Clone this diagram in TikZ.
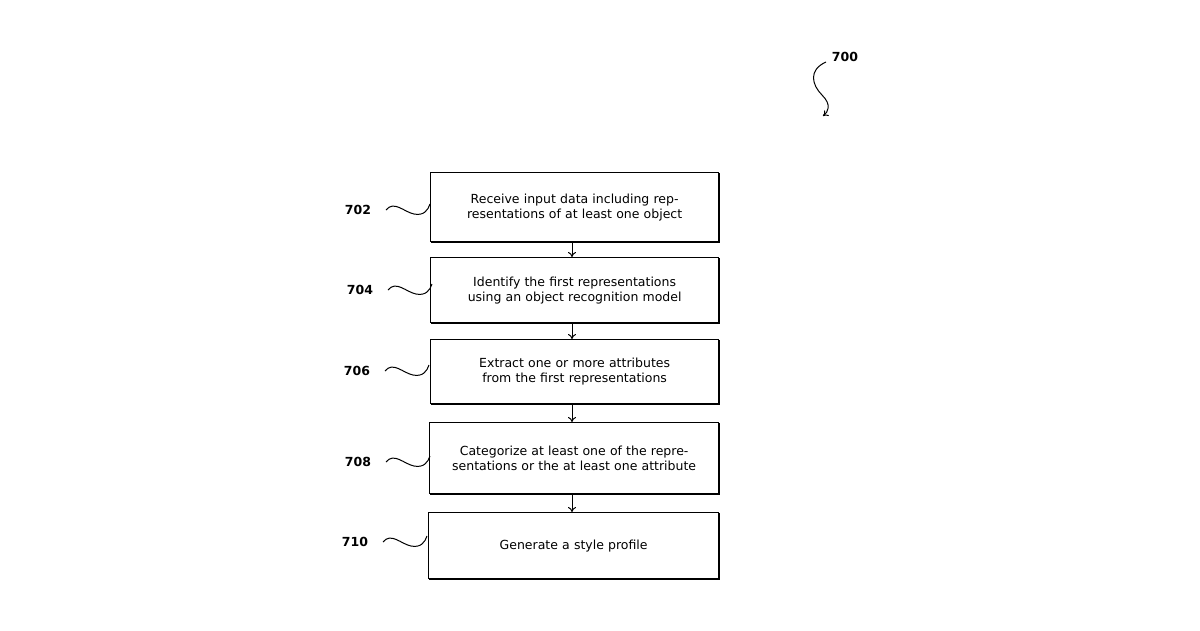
\documentclass[tikz,border=0pt]{standalone}
\usepackage{fontspec}
\setmainfont{DejaVu Sans}
\usetikzlibrary{arrows.meta}
\begin{document}
\begin{tikzpicture}[x=1pt,y=-1pt,
 box/.style={draw,line width=1.3pt,align=center,anchor=north west,inner sep=0pt,font=\fontsize{12.5}{15}\selectfont},
 lbl/.style={font=\bfseries\fontsize{12.5}{15}\selectfont},
 arr/.style={-{To[length=5pt,width=8pt]},line width=1pt},
 sq/.style={line width=1pt}]
\useasboundingbox (0,0) rectangle (1200,630);
\newcommand{\bx}[6]{%
 \node[box,minimum width=#4-#2,minimum height=#5-#3,text width=#4-#2-20] (#1) at (#2,#3) {#6};
 \draw[line width=1.3pt] (#2+1,#5+1.5) -- (#4+1.5,#5+1.5) -- (#4+1.5,#3+1);}
\bx{b702}{430}{172}{718}{241}{Receive input data including representations of at least one object}
\bx{b704}{430}{257}{718}{322}{Identify the first representations using an object recognition model}
\bx{b706}{430}{339}{718}{403}{Extract one or more attributes from the first representations}
\bx{b708}{429}{422}{718}{493}{Categorize at least one of the representations or the at least one attribute}
\bx{b710}{428}{512}{718}{578}{Generate a style profile}
\foreach \a/\b in {b702/b704,b704/b706,b706/b708,b708/b710}
 \draw[arr] (\a.south-|572,0) -- (\b.north-|572,0);
\foreach \n/\y/\xl in {702/210/358,704/290/360,706/371/357,708/462/358,710/542/355}{
 \node[lbl] (l\n) at (\xl,\y) {\n};
 \coordinate (s\n) at (\xl+28,\y);
 \draw[sq] (s\n) .. controls (\xl+36,\y-10) and (\xl+46,\y+2) .. (\xl+56,\y+4) .. controls (\xl+66,\y+6) and (\xl+70,\y) .. (\xl+72,\y-6);
}
\node[lbl] (l700) at (845,57) {700};
\coordinate (s700) at (826,62);
\draw[sq,-{To[length=5pt,width=7pt]}] (s700) .. controls (808,70) and (812,85) .. (822,95) .. controls (832,105) and (828,112) .. (823,116);
\end{tikzpicture}
\end{document}
